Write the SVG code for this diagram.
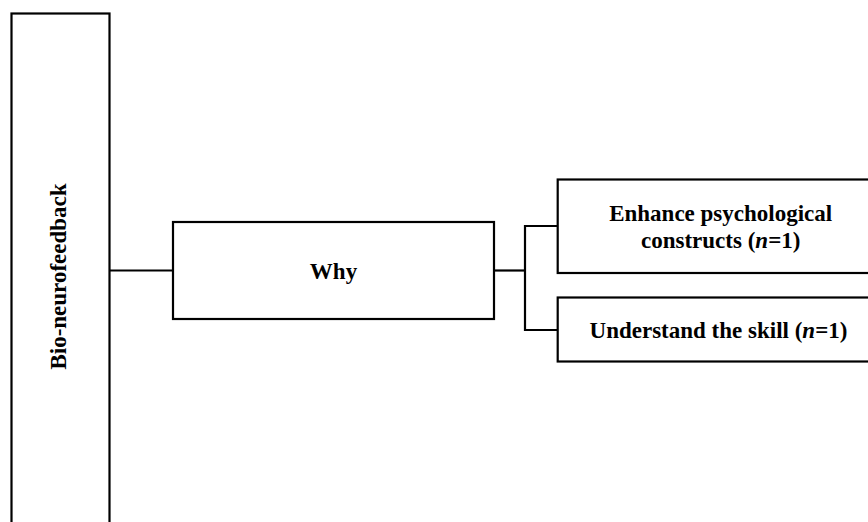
<svg xmlns="http://www.w3.org/2000/svg" width="868" height="522" viewBox="0 0 868 522">
<style>
.box{fill:#fff;stroke:#000;stroke-width:2.2}
.ln{fill:none;stroke:#000;stroke-width:2.2}
.t{font-family:"Liberation Serif","Times New Roman",serif;font-weight:bold;font-size:23px;fill:#000;text-anchor:middle}
</style>
<rect width="868" height="522" fill="#fff"/>
<g id="connectors">
<line class="ln" x1="109.5" y1="270.5" x2="173" y2="270.5"/>
<line class="ln" x1="494" y1="270.5" x2="525" y2="270.5"/>
<polyline class="ln" points="557.7,226 525,226 525,330 557.7,330"/>
</g>
<g id="bio">
<rect class="box" x="11.5" y="13.5" width="98" height="530"/>
<text class="t" transform="translate(66,276.5) rotate(-90)">Bio-neurofeedback</text>
</g>
<g id="why">
<rect class="box" x="173" y="222" width="321" height="97"/>
<text class="t" x="333.5" y="278.5">Why</text>
</g>
<g id="enhance">
<rect class="box" x="557.7" y="179.5" width="326" height="93.5"/>
<text class="t" x="720.7" y="220.5">Enhance psychological</text>
<text class="t" x="720.7" y="247.5">constructs (<tspan font-style="italic">n</tspan>=1)</text>
</g>
<g id="understand">
<rect class="box" x="557.7" y="297.5" width="326" height="64"/>
<text class="t" x="718.5" y="337.5">Understand the skill (<tspan font-style="italic">n</tspan>=1)</text>
</g>
</svg>
